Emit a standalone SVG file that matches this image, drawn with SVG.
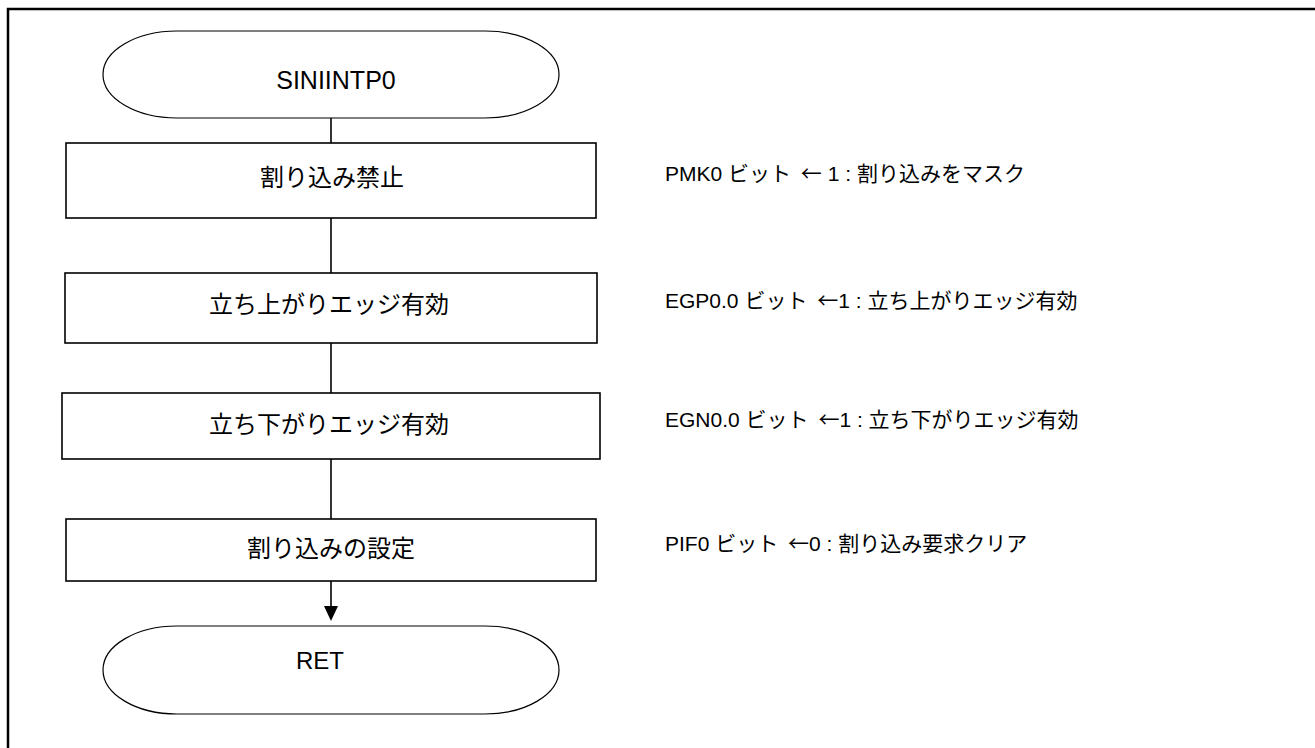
<svg xmlns="http://www.w3.org/2000/svg" width="1315" height="748" viewBox="0 0 1315 748">
<style>
.frame{fill:none;stroke:#000;stroke-width:2.5}
.shape{fill:#fff;stroke:#000;stroke-width:1.6}
.term{fill:#fff;stroke:#000;stroke-width:1.2}
.t{font-family:"Liberation Sans","Noto Sans CJK JP",sans-serif;font-size:24px;fill:#000;text-anchor:middle}
.lbl{font-family:"Liberation Sans","Noto Sans CJK JP",sans-serif;font-size:21px;fill:#000}
.arr{font-family:"Noto Sans CJK JP",sans-serif}
.conn{stroke:#000;stroke-width:1.6;fill:none}
</style>
<rect width="1315" height="748" fill="#fff"/>
<path class="frame" d="M8,760 V9 H1330"/>
<g id="connectors">
<line class="conn" x1="331" y1="118" x2="331" y2="143"/>
<line class="conn" x1="331" y1="218" x2="331" y2="273"/>
<line class="conn" x1="331" y1="343" x2="331" y2="393"/>
<line class="conn" x1="331" y1="459" x2="331" y2="519"/>
<line class="conn" x1="331" y1="581" x2="331" y2="606"/>
<path d="M324,606 L338,606 L331,621 Z" fill="#000"/>
</g>
<g id="start">
<path class="term" d="M177,31 H485 A74,43.5 0 0 1 485,118 H177 A74,43.5 0 0 1 177,31 Z"/>
<text class="t" x="336" y="89" style="font-size:25px">SINIINTP0</text>
</g>
<g id="step1">
<rect class="shape" x="66" y="143" width="530" height="75"/>
<text class="t" x="332" y="186">割り込み禁止</text>
</g>
<g id="step2">
<rect class="shape" x="65" y="273" width="532" height="70"/>
<text class="t" x="329" y="313">立ち上がりエッジ有効</text>
</g>
<g id="step3">
<rect class="shape" x="62" y="393" width="538" height="66"/>
<text class="t" x="329" y="433">立ち下がりエッジ有効</text>
</g>
<g id="step4">
<rect class="shape" x="66" y="519" width="530" height="62"/>
<text class="t" x="331" y="557">割り込みの設定</text>
</g>
<g id="end">
<path class="term" d="M177,626 H485 A74,44 0 0 1 485,714 H177 A74,44 0 0 1 177,626 Z"/>
<text class="t" x="320" y="669">RET</text>
</g>
<g id="labels">
<text class="lbl" x="665" y="181">PMK0 ビット <tspan class="arr" dx="4">←</tspan> 1 : 割り込みをマスク</text>
<text class="lbl" x="665" y="308">EGP0.0 ビット <tspan class="arr" dx="4">←</tspan>1 : 立ち上がりエッジ有効</text>
<text class="lbl" x="665" y="427">EGN0.0 ビット <tspan class="arr" dx="4">←</tspan>1 : 立ち下がりエッジ有効</text>
<text class="lbl" x="665" y="551">PIF0 ビット <tspan class="arr" dx="4">←</tspan>0 : 割り込み要求クリア</text>
</g>
</svg>
